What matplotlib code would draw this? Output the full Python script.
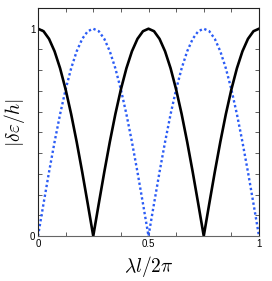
import matplotlib
matplotlib.use("Agg")
import matplotlib.pyplot as plt
from matplotlib.ticker import MultipleLocator, FixedLocator

# x positions (lambda l / 2pi)
x = [0.000, 0.025, 0.050, 0.075, 0.100, 0.125, 0.150, 0.175, 0.200, 0.225,
     0.250, 0.275, 0.300, 0.325, 0.350, 0.375, 0.400, 0.425, 0.450, 0.475,
     0.500, 0.525, 0.550, 0.575, 0.600, 0.625, 0.650, 0.675, 0.700, 0.725,
     0.750, 0.775, 0.800, 0.825, 0.850, 0.875, 0.900, 0.925, 0.950, 0.975,
     1.000]
# black solid curve
black = [1.000, 0.988, 0.951, 0.891, 0.809, 0.707, 0.588, 0.454, 0.309, 0.156,
         0.000, 0.156, 0.309, 0.454, 0.588, 0.707, 0.809, 0.891, 0.951, 0.988,
         1.000, 0.988, 0.951, 0.891, 0.809, 0.707, 0.588, 0.454, 0.309, 0.156,
         0.000, 0.156, 0.309, 0.454, 0.588, 0.707, 0.809, 0.891, 0.951, 0.988,
         1.000]
# blue dotted curve
blue = [0.000, 0.156, 0.309, 0.454, 0.588, 0.707, 0.809, 0.891, 0.951, 0.988,
        1.000, 0.988, 0.951, 0.891, 0.809, 0.707, 0.588, 0.454, 0.309, 0.156,
        0.000, 0.156, 0.309, 0.454, 0.588, 0.707, 0.809, 0.891, 0.951, 0.988,
        1.000, 0.988, 0.951, 0.891, 0.809, 0.707, 0.588, 0.454, 0.309, 0.156,
        0.000]
xticks = [0, 0.5, 1]
xticklabels = ["0", "0.5", "1"]
yticks = [0, 1]
yticklabels = ["0", "1"]

plt.rcParams['font.family'] = ['Liberation Sans', 'DejaVu Sans']
plt.rcParams['mathtext.fontset'] = 'cm'

fig = plt.figure(figsize=(2.72, 2.81), dpi=100)
ax = fig.add_axes([38/272, 45/281, 221/272, 228/281])

ax.plot(x, blue, color='#2b5cf5', linestyle=(0, (1, 1.1)), linewidth=1.7)
ax.plot(x, black, color='black', linewidth=1.9)

ax.set_xlim(0, 1)
ax.set_ylim(0, 1.1)
ax.set_xticks(xticks)
ax.set_xticklabels(xticklabels)
ax.set_yticks(yticks)
ax.set_yticklabels(yticklabels)
ax.xaxis.set_minor_locator(MultipleLocator(0.125))
ax.yaxis.set_minor_locator(MultipleLocator(0.1))
ax.tick_params(which='both', direction='in', top=True, right=True,
               labelsize=7, pad=2, width=0.6, color='#444444')
ax.tick_params(which='major', length=3)
ax.tick_params(which='minor', length=3)
for s in ax.spines.values():
    s.set_linewidth(0.8)
    s.set_color('#222222')
ax.spines['bottom'].set_color('#666666')

ax.set_xlabel(r'$\lambda l/2\pi$', fontsize=14, labelpad=4)
ax.set_ylabel(r'$|\delta\varepsilon/h|$', fontsize=14, labelpad=2)

fig.savefig('out.png', dpi=100)
